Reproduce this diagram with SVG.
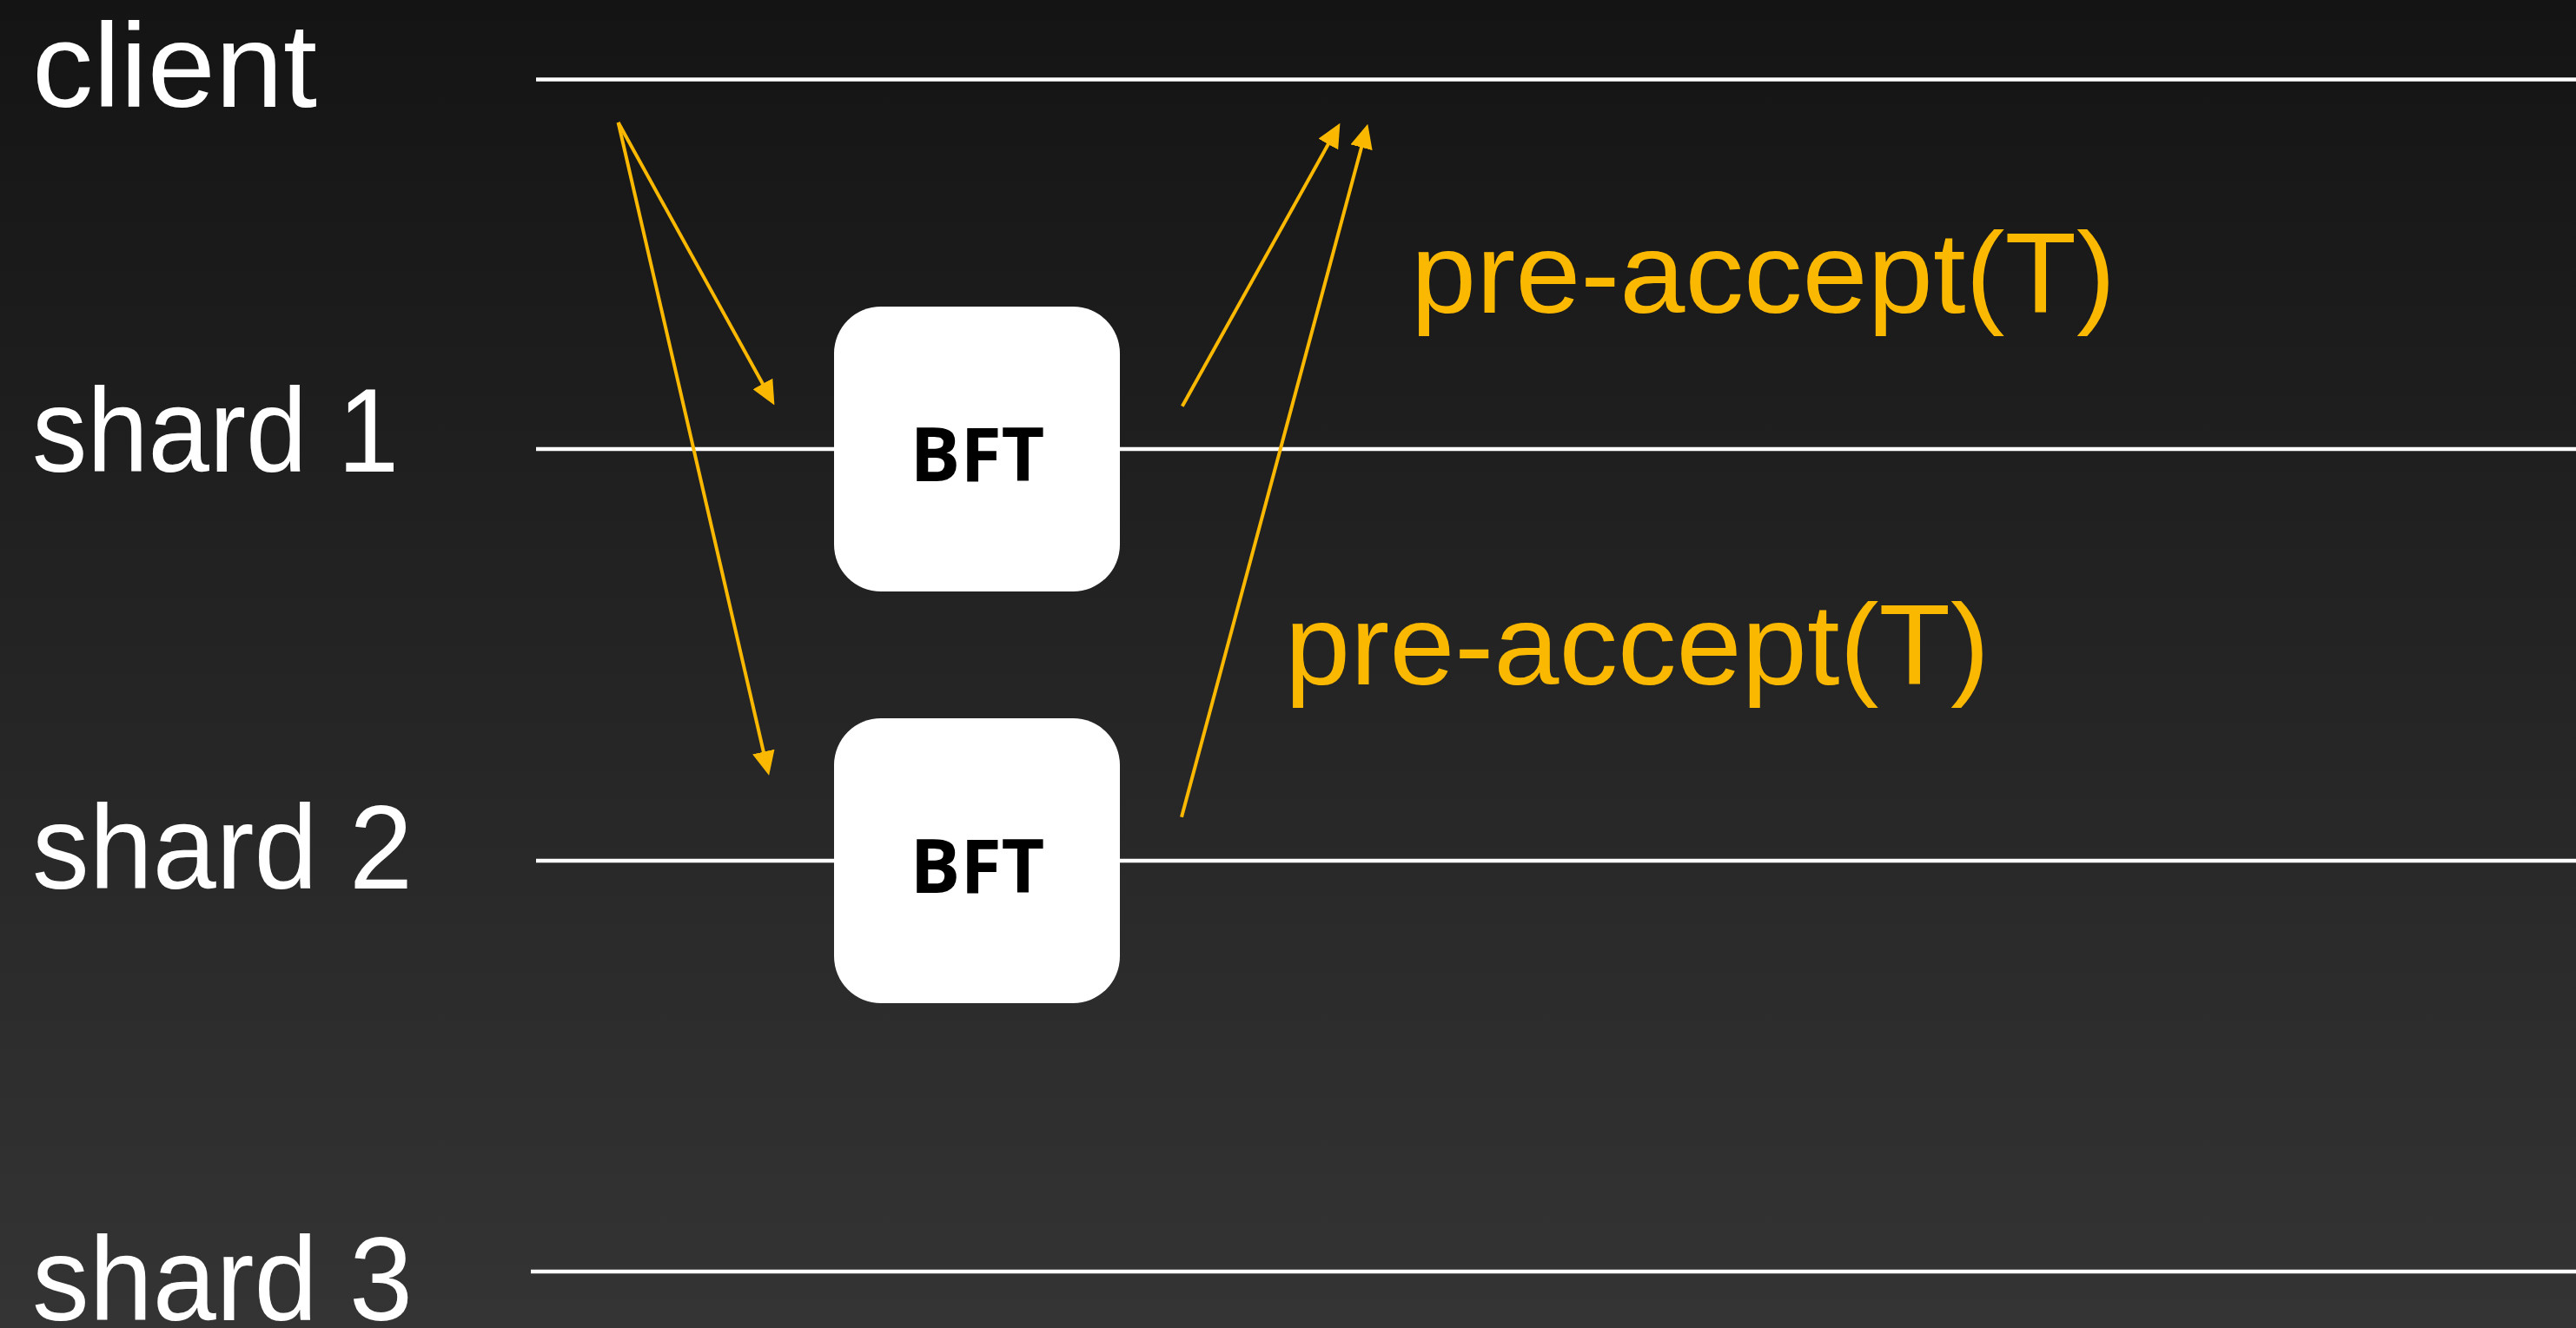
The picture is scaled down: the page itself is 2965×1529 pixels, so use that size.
<svg xmlns="http://www.w3.org/2000/svg" width="2965" height="1529" viewBox="0 0 2965 1529">
<defs>
<linearGradient id="bg" x1="0" y1="0" x2="0" y2="1">
<stop offset="0" stop-color="#141414"/>
<stop offset="1" stop-color="#343434"/>
</linearGradient>
<marker id="ah" markerUnits="userSpaceOnUse" markerWidth="28" markerHeight="26" refX="23" refY="13" orient="auto">
<path d="M0,0 L28,13 L0,26 z" fill="#FAB900"/>
</marker>
<style>
.lane{stroke:#ffffff;stroke-width:4.5;fill:none}
.lbl{font-family:"Liberation Sans",Arial,sans-serif;font-size:137px;fill:#ffffff}
.msg{font-family:"Liberation Sans",Arial,sans-serif;font-size:132px;fill:#FAB900}
.box{fill:#ffffff}
.bt{font-family:"Open Sans","Noto Sans",sans-serif;font-weight:bold;font-size:86px;fill:#000000;text-anchor:middle}
.arr{stroke:#FAB900;stroke-width:4;fill:none;marker-end:url(#ah)}
</style>
</defs>
<rect x="0" y="0" width="2965" height="1529" fill="url(#bg)"/>
<g id="lanes">
<g id="lane-client"><line class="lane" x1="617" y1="91.5" x2="2965" y2="91.5"/><text class="lbl" x="37" y="123" textLength="328" lengthAdjust="spacingAndGlyphs">client</text></g>
<g id="lane-shard1"><line class="lane" x1="617" y1="517" x2="2965" y2="517"/><text class="lbl" x="37" y="543" textLength="422" lengthAdjust="spacingAndGlyphs">shard 1</text></g>
<g id="lane-shard2"><line class="lane" x1="617" y1="991" x2="2965" y2="991"/><text class="lbl" x="37" y="1023" textLength="438" lengthAdjust="spacingAndGlyphs">shard 2</text></g>
<g id="lane-shard3"><line class="lane" x1="611" y1="1464" x2="2965" y2="1464"/><text class="lbl" x="37" y="1520" textLength="438" lengthAdjust="spacingAndGlyphs">shard 3</text></g>
</g>
<g id="bft1"><rect class="box" x="960" y="353" width="329" height="328" rx="54" ry="54"/><text class="bt" x="1125" y="554">BFT</text></g>
<g id="bft2"><rect class="box" x="960" y="827" width="329" height="328" rx="54" ry="54"/><text class="bt" x="1125" y="1028">BFT</text></g>
<g id="connectors">
<line class="arr" x1="711.6" y1="141" x2="889" y2="462"/>
<line class="arr" x1="711.6" y1="141" x2="884" y2="888"/>
<line class="arr" x1="1360.8" y1="467.7" x2="1540" y2="146"/>
<line class="arr" x1="1360" y1="940.7" x2="1573" y2="147.5"/>
</g>
<g id="labels">
<text class="msg" x="1624" y="360" textLength="811" lengthAdjust="spacingAndGlyphs">pre-accept(T)</text>
<text class="msg" x="1479" y="788" textLength="811" lengthAdjust="spacingAndGlyphs">pre-accept(T)</text>
</g>
</svg>
